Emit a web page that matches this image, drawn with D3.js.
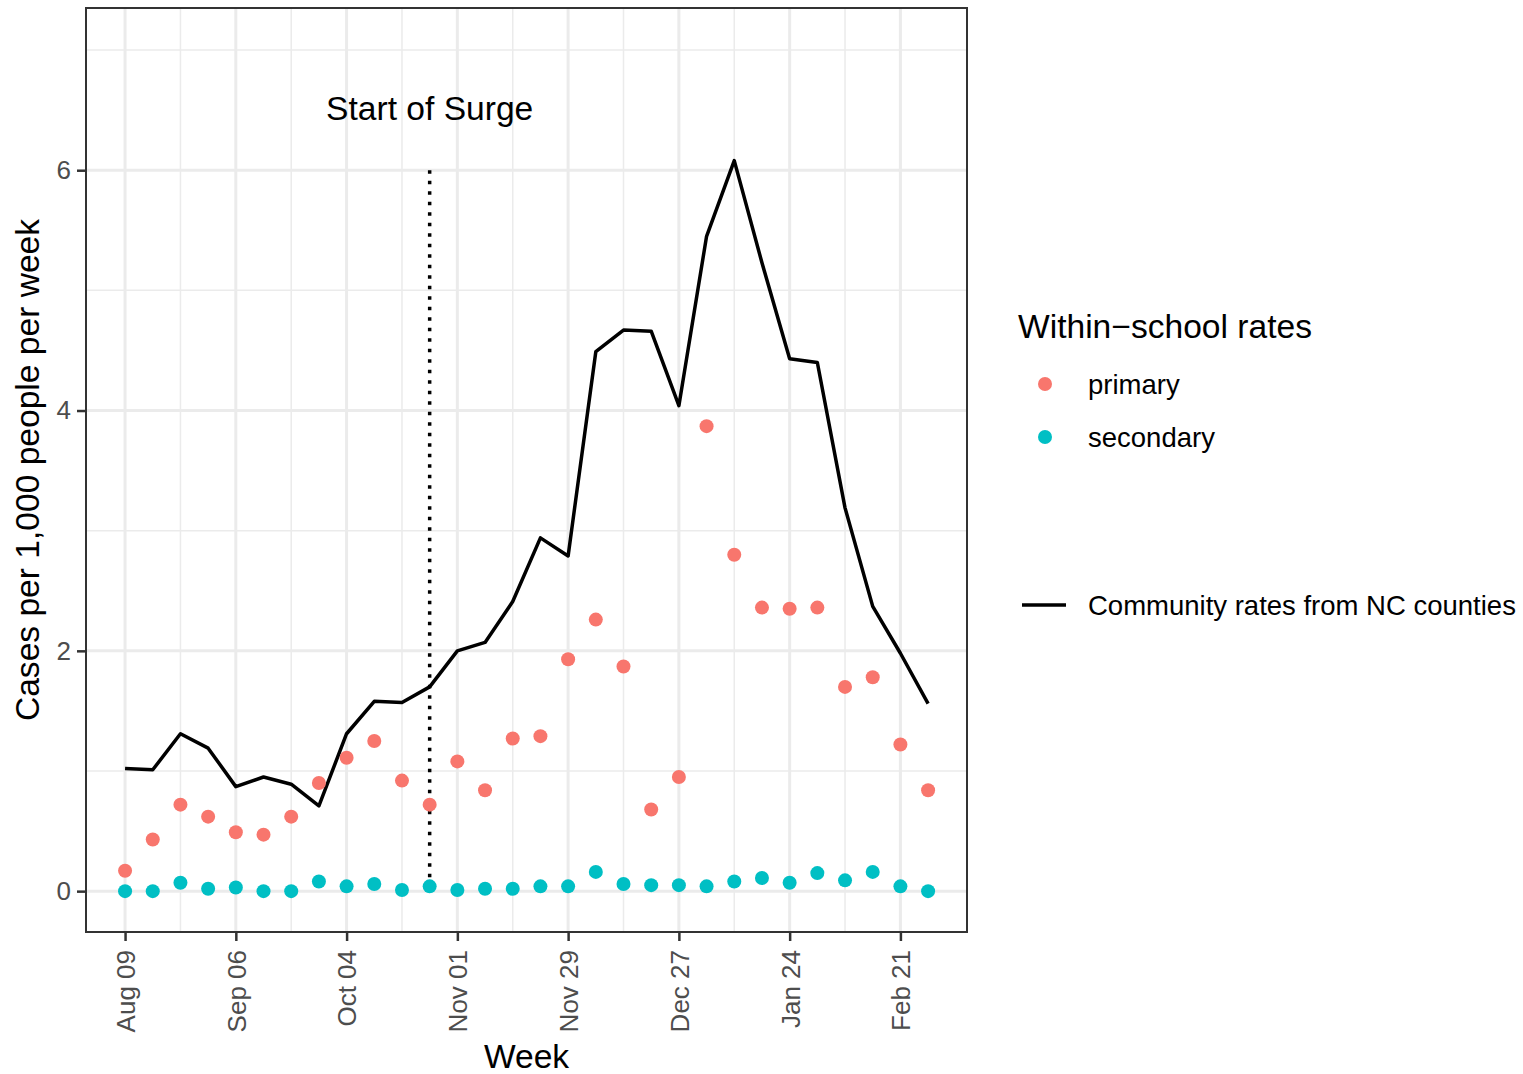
<!DOCTYPE html>
<html>
<head>
<meta charset="utf-8">
<script src="https://cdn.jsdelivr.net/npm/d3@7"></script>
<style>
  body { margin: 0; background: #fff; }
  text { font-family: "Liberation Sans", Arial, sans-serif; }
</style>
</head>
<body>
<script>
// weekly data, Aug 09 2020 .. Feb 28 2021
const startWeek = new Date(2020, 7, 9);
const weeks = d3.range(30).map(i => d3.timeDay.offset(startWeek, i * 7));

const community = [1.02, 1.01, 1.31, 1.19, 0.87, 0.95, 0.89, 0.71, 1.31, 1.58,
  1.57, 1.70, 2.00, 2.07, 2.41, 2.94, 2.79, 4.49, 4.67, 4.66,
  4.04, 5.45, 6.08, 5.23, 4.43, 4.40, 3.19, 2.37, 1.98, 1.56];
const primary = [0.17, 0.43, 0.72, 0.62, 0.49, 0.47, 0.62, 0.90, 1.11, 1.25,
  0.92, 0.72, 1.08, 0.84, 1.27, 1.29, 1.93, 2.26, 1.87, 0.68,
  0.95, 3.87, 2.80, 2.36, 2.35, 2.36, 1.70, 1.78, 1.22, 0.84];
const secondary = [0.00, 0.00, 0.07, 0.02, 0.03, 0.00, 0.00, 0.08, 0.04, 0.06,
  0.01, 0.04, 0.01, 0.02, 0.02, 0.04, 0.04, 0.16, 0.06, 0.05,
  0.05, 0.04, 0.08, 0.11, 0.07, 0.15, 0.09, 0.16, 0.04, 0.00];

const seriesNames = ["primary", "secondary"];
const seriesColors = ["#F8766D", "#00BFC4"];
const yTicks = [0, 2, 4, 6];
const yMinor = [1, 3, 5, 7];
const surgeDate = new Date(2020, 9, 25);

const W = 1523, H = 1074;
const panel = {left: 86, right: 967, top: 8, bottom: 932};

const svg = d3.select("body").append("svg")
  .attr("width", W).attr("height", H);

const x = d3.scaleTime()
  .domain([d3.timeHour.offset(weeks[0], -1.41 * 7 * 24), d3.timeHour.offset(weeks[29], 1.41 * 7 * 24)])
  .range([panel.left, panel.right]);
const y = d3.scaleLinear()
  .domain([-0.34, 7.35])
  .range([panel.bottom, panel.top]);

const xMajor = weeks.filter((d, i) => i % 4 === 0);
const xMinor = weeks.filter((d, i) => i % 4 === 2);

// grid
const grid = svg.append("g");
grid.selectAll(".ymin").data(yMinor).join("line")
  .attr("x1", panel.left).attr("x2", panel.right)
  .attr("y1", d => y(d)).attr("y2", d => y(d))
  .attr("stroke", "#ebebeb").attr("stroke-width", 1.5);
grid.selectAll(".xmin").data(xMinor).join("line")
  .attr("y1", panel.top).attr("y2", panel.bottom)
  .attr("x1", d => x(d)).attr("x2", d => x(d))
  .attr("stroke", "#ebebeb").attr("stroke-width", 1.5);
grid.selectAll(".ymaj").data(yTicks).join("line")
  .attr("x1", panel.left).attr("x2", panel.right)
  .attr("y1", d => y(d)).attr("y2", d => y(d))
  .attr("stroke", "#ebebeb").attr("stroke-width", 3);
grid.selectAll(".xmaj").data(xMajor).join("line")
  .attr("y1", panel.top).attr("y2", panel.bottom)
  .attr("x1", d => x(d)).attr("x2", d => x(d))
  .attr("stroke", "#ebebeb").attr("stroke-width", 3);

// surge marker
svg.append("line")
  .attr("x1", x(surgeDate)).attr("x2", x(surgeDate))
  .attr("y1", y(6)).attr("y2", y(0))
  .attr("stroke", "#000").attr("stroke-width", 3.5)
  .attr("stroke-dasharray", "3.5,7");
svg.append("text")
  .attr("x", x(surgeDate)).attr("y", y(6.5) + 10)
  .attr("text-anchor", "middle").attr("font-size", 33.6)
  .attr("fill", "#000").text("Start of Surge");

// community line
svg.append("path")
  .datum(community)
  .attr("d", d3.line().x((d, i) => x(weeks[i])).y(d => y(d)))
  .attr("fill", "none").attr("stroke", "#000").attr("stroke-width", 3.5)
  .attr("stroke-linejoin", "round");

// points
[primary, secondary].forEach((vals, k) => {
  svg.append("g").selectAll("circle").data(vals).join("circle")
    .attr("cx", (d, i) => x(weeks[i])).attr("cy", d => y(d))
    .attr("r", 7).attr("fill", seriesColors[k]);
});

// panel border
svg.append("rect")
  .attr("x", panel.left).attr("y", panel.top)
  .attr("width", panel.right - panel.left).attr("height", panel.bottom - panel.top)
  .attr("fill", "none").attr("stroke", "#333").attr("stroke-width", 2);

// axes
const xAxis = svg.append("g")
  .attr("transform", `translate(0,${panel.bottom})`)
  .call(d3.axisBottom(x).tickValues(xMajor).tickFormat(d3.timeFormat("%b %d")).tickSize(9).tickSizeOuter(0));
xAxis.select(".domain").remove();
xAxis.selectAll(".tick line").attr("stroke", "#333").attr("stroke-width", 2.5);
xAxis.selectAll(".tick text")
  .attr("font-size", 26).attr("fill", "#4d4d4d")
  .attr("transform", "rotate(-90)")
  .attr("text-anchor", "end")
  .attr("x", -18).attr("y", 0).attr("dy", "0.36em");

const yAxis = svg.append("g")
  .attr("transform", `translate(${panel.left},0)`)
  .call(d3.axisLeft(y).tickValues(yTicks).tickSize(9).tickSizeOuter(0));
yAxis.select(".domain").remove();
yAxis.selectAll(".tick line").attr("stroke", "#333").attr("stroke-width", 2.5);
yAxis.selectAll(".tick text").attr("font-size", 26).attr("fill", "#4d4d4d").attr("x", -15);

// axis titles
svg.append("text")
  .attr("x", (panel.left + panel.right) / 2).attr("y", 1068)
  .attr("text-anchor", "middle").attr("font-size", 33.6).text("Week");
svg.append("text")
  .attr("transform", `translate(39,${(panel.top + panel.bottom) / 2}) rotate(-90)`)
  .attr("text-anchor", "middle").attr("font-size", 33.6)
  .text("Cases per 1,000 people per week");

// legend
const leg = svg.append("g");
leg.append("text").attr("x", 1018).attr("y", 338).attr("font-size", 33.6)
  .text("Within\u2212school rates");
seriesNames.forEach((name, k) => {
  const cy = 384 + k * 53;
  leg.append("circle").attr("cx", 1045).attr("cy", cy).attr("r", 7).attr("fill", seriesColors[k]);
  leg.append("text").attr("x", 1088).attr("y", cy + 10).attr("font-size", 27.5).text(name);
});
leg.append("line").attr("x1", 1022).attr("x2", 1066).attr("y1", 605).attr("y2", 605)
  .attr("stroke", "#000").attr("stroke-width", 3.5);
leg.append("text").attr("x", 1088).attr("y", 615).attr("font-size", 27.5)
  .text("Community rates from NC counties");
</script>
</body>
</html>
